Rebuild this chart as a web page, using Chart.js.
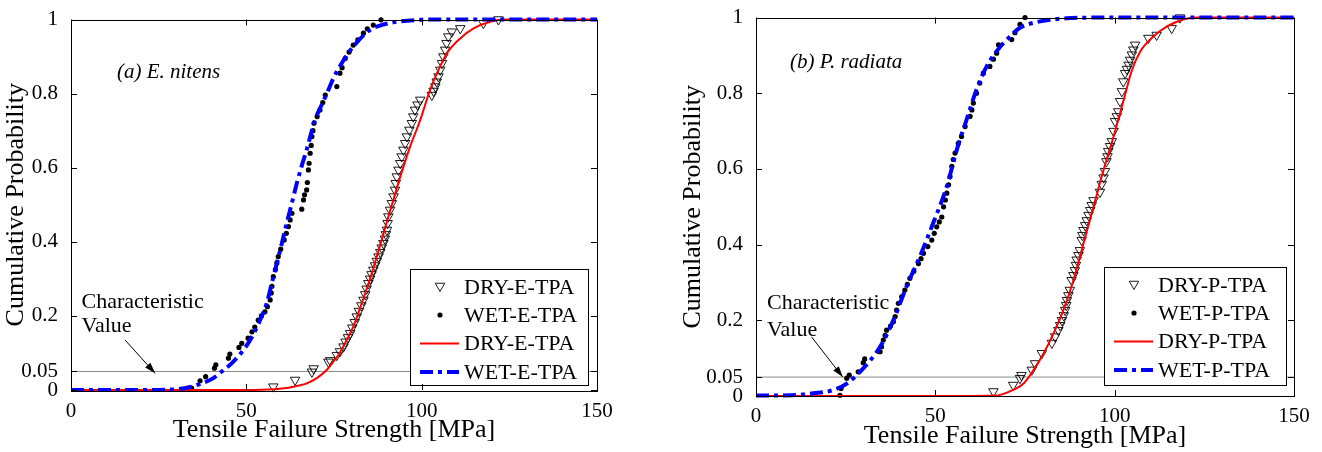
<!DOCTYPE html>
<html>
<head>
<meta charset="utf-8">
<script src="https://cdn.jsdelivr.net/npm/chart.js@4.4.1/dist/chart.umd.min.js"></script>
<style>
  body { margin: 0; background: #fff; width: 1322px; height: 452px; overflow: hidden; position: relative; }
  .panel { position: absolute; top: 0; }
  #panelA { left: 0; }
  #panelB { left: 660px; }
</style>
</head>
<body>
<div class="panel" id="panelA"><canvas id="chartA" width="650" height="452"></canvas></div>
<div class="panel" id="panelB"><canvas id="chartB" width="662" height="452"></canvas></div>
<script>
// axis ticks and the characteristic value line
const xTicks = [0, 50, 100, 150];
const yTicks = [0, 0.05, 0.2, 0.4, 0.6, 0.8, 1];
const charValue = 0.05;

// (a) E. nitens -- [tensile strength MPa, cumulative probability]
const dryE_test = [[57.7,0.009],[63.9,0.027],[68.7,0.049],[69.2,0.058],[73.4,0.076],[73.9,0.08],[75.8,0.094],[76.7,0.104],
  [77.7,0.117],[78.3,0.13],[79.0,0.142],[79.6,0.153],[80.2,0.168],[80.9,0.183],[81.5,0.198],[82.1,0.213],[82.8,0.228],
  [83.4,0.243],[83.9,0.258],[84.3,0.273],[84.8,0.288],[85.3,0.3],[85.7,0.312],[86.2,0.324],[86.7,0.336],[87.2,0.348],
  [87.7,0.36],[88.2,0.372],[88.6,0.384],[89.1,0.396],[89.5,0.408],[89.8,0.42],[90.1,0.432],[90.3,0.45],[90.5,0.468],
  [91.0,0.486],[91.5,0.504],[92.0,0.522],[92.4,0.54],[92.6,0.558],[92.9,0.576],[93.4,0.594],[93.9,0.612],[94.3,0.63],
  [94.8,0.648],[95.3,0.666],[95.8,0.684],[96.5,0.702],[97.2,0.72],[97.6,0.738],[98.1,0.756],[98.8,0.77],[99.6,0.783],
  [102.9,0.796],[103.4,0.807],[103.9,0.819],[104.3,0.832],[104.8,0.846],[105.3,0.864],[105.8,0.882],[106.2,0.9],
  [106.7,0.918],[107.1,0.936],[107.6,0.954],[108.6,0.967],[111.0,0.976],[117.6,0.99],[121.9,1.0]];
const wetE_test = [[34.4,0.005],[36.8,0.025],[38.4,0.036],[40.9,0.059],[41.3,0.068],[44.9,0.086],[45.3,0.097],[47.9,0.115],
  [48.7,0.126],[50.5,0.14],[51.6,0.157],[52.4,0.17],[53.4,0.189],[54.3,0.2],[55.3,0.211],[56.0,0.225],[56.8,0.243],
  [57.1,0.262],[57.3,0.28],[57.7,0.306],[58.3,0.325],[58.7,0.343],[59.1,0.36],[59.8,0.38],[60.8,0.405],[61.4,0.423],
  [62.0,0.441],[62.5,0.459],[63.0,0.477],[65.8,0.488],[66.3,0.513],[66.6,0.527],[67.2,0.54],[67.4,0.56],[67.7,0.594],
  [67.9,0.612],[68.2,0.639],[68.5,0.66],[68.7,0.684],[69.0,0.7],[69.3,0.72],[70.2,0.738],[71.0,0.756],[71.8,0.776],
  [72.5,0.796],[75.8,0.819],[76.7,0.855],[77.3,0.87],[78.2,0.895],[79.3,0.912],[80.5,0.931],[81.8,0.945],[83.4,0.963],
  [84.5,0.975],[86.2,0.985],[88.4,0.999]];
const dryE_fit = [[0,0],[50,0],[58,0.002],[62,0.006],[65,0.012],[67.2,0.018],[70.1,0.032],[72.9,0.054],[74.7,0.075],
  [76.5,0.098],[78.5,0.133],[80.5,0.171],[82.2,0.215],[83.9,0.261],[85.6,0.31],[87.2,0.36],[88.9,0.415],[90.5,0.468],
  [92.2,0.522],[93.9,0.576],[95.3,0.617],[96.7,0.657],[98.2,0.694],[99.6,0.729],[101.0,0.77],[102.4,0.81],[104.8,0.864],
  [107.2,0.909],[111.0,0.949],[114.8,0.976],[119.5,0.994],[123.8,1],[150,1]];
const wetE_fit = [[0,0],[20,0],[30,0.002],[34,0.008],[37,0.017],[40.6,0.032],[43,0.05],[45.8,0.072],[48.5,0.1],
  [51.1,0.135],[53.5,0.18],[55.8,0.234],[57.3,0.29],[58.7,0.342],[60.1,0.395],[61.5,0.45],[63.0,0.505],[64.4,0.558],
  [65.8,0.605],[67.2,0.648],[68.4,0.69],[69.6,0.729],[71.3,0.766],[73.0,0.801],[75.0,0.845],[77.2,0.882],[80.5,0.927],
  [85.3,0.972],[89.0,0.986],[92.9,0.994],[99.6,0.999],[105,1],[150,1]];

// (b) P. radiata
const dryP_test = [[66.2,0.012],[71.7,0.029],[73.6,0.047],[74.0,0.055],[76.9,0.069],[77.8,0.086],[79.7,0.113],[82.5,0.14],
  [83.4,0.157],[84.3,0.174],[84.8,0.187],[85.3,0.2],[85.8,0.213],[86.2,0.227],[86.5,0.24],[86.7,0.253],[87.1,0.266],
  [87.5,0.28],[88.0,0.306],[88.5,0.319],[88.9,0.332],[89.2,0.346],[89.4,0.36],[89.9,0.372],[90.3,0.385],[90.8,0.412],
  [91.0,0.425],[91.3,0.438],[91.8,0.451],[92.2,0.464],[92.7,0.478],[93.2,0.491],[93.6,0.504],[94.1,0.517],[95.9,0.539],
  [96.4,0.56],[96.9,0.577],[97.3,0.594],[97.7,0.62],[98.0,0.633],[98.2,0.647],[98.7,0.66],[99.2,0.673],[99.7,0.7],
  [100.1,0.726],[100.6,0.739],[101.0,0.752],[101.5,0.779],[102.0,0.805],[102.4,0.831],[102.9,0.853],[103.4,0.864],
  [103.9,0.875],[104.3,0.888],[104.8,0.902],[105.2,0.915],[105.7,0.928],[109.4,0.946],[111.7,0.954],[115.9,0.972],[118.2,1.0]];
const wetP_test = [[23.4,0.002],[23.7,0.02],[25.3,0.047],[26.0,0.055],[28.5,0.064],[29.9,0.088],[30.3,0.098],[34.6,0.117],
  [35.0,0.13],[35.5,0.148],[36.0,0.16],[36.4,0.174],[37.5,0.185],[38.3,0.196],[38.8,0.21],[39.2,0.227],[39.7,0.245],
  [40.6,0.262],[41.5,0.28],[42.2,0.295],[42.9,0.311],[44.0,0.33],[45.3,0.35],[46.0,0.363],[46.7,0.377],[47.9,0.395],
  [49.0,0.412],[49.7,0.43],[50.4,0.447],[51.1,0.46],[51.8,0.473],[52.3,0.5],[52.8,0.518],[53.2,0.536],[53.7,0.558],
  [54.1,0.58],[54.6,0.607],[55.0,0.625],[55.5,0.642],[56.4,0.668],[57.3,0.686],[58.3,0.712],[59.7,0.739],[60.2,0.756],
  [60.6,0.774],[61.5,0.8],[62.4,0.827],[63.4,0.853],[65.2,0.871],[66.2,0.89],[67.1,0.906],[67.6,0.928],[71.3,0.942],
  [72.2,0.96],[73.6,0.982],[75.0,1.0]];
const dryP_fit = [[0,0],[60,0],[66,0.001],[68.1,0.003],[71.7,0.016],[74.6,0.033],[77.4,0.069],[80.2,0.113],[83.0,0.166],
  [85.7,0.227],[88.5,0.306],[91.3,0.403],[94.1,0.5],[96.9,0.597],[99.7,0.686],[102.5,0.782],[104.8,0.861],[107.1,0.91],
  [110.8,0.95],[114.5,0.976],[119.1,0.995],[123,1],[150,1]];
const wetP_fit = [[0,0.001],[10,0.002],[16,0.007],[21.6,0.016],[25.3,0.033],[29.9,0.073],[34.6,0.13],[38.3,0.2],[42.0,0.29],
  [45.7,0.369],[49.4,0.457],[53.2,0.554],[56.0,0.651],[58.7,0.73],[61.5,0.81],[64.3,0.871],[68.0,0.922],[70.8,0.95],
  [73.6,0.973],[79.2,0.99],[86.6,0.998],[95,1],[150,1]];

const labelsE = ['DRY-E-TPA', 'WET-E-TPA', 'DRY-E-TPA', 'WET-E-TPA'];
const labelsP = ['DRY-P-TPA', 'WET-P-TPA', 'DRY-P-TPA', 'WET-P-TPA'];

const serif = '"Liberation Serif", "Times New Roman", serif';
const blueDash = [13, 5, 4, 5];

function toXY(arr) {
  return arr.map(function (p) { return { x: p[0], y: p[1] }; });
}

function drawTriangle(ctx, cx, cy, r) {
  // downward pointing open triangle
  ctx.beginPath();
  ctx.moveTo(cx - r * 0.866, cy - r * 0.5);
  ctx.lineTo(cx + r * 0.866, cy - r * 0.5);
  ctx.lineTo(cx, cy + r);
  ctx.closePath();
  ctx.stroke();
}

// frame, inward ticks, boxed legend and the text notes
const decorPlugin = {
  id: 'decor',
  afterDatasetsDraw(chart, args, o) {
    const ctx = chart.ctx;
    const a = chart.chartArea;
    const sx = chart.scales.x, sy = chart.scales.y;
    ctx.save();

    // legend box
    const bx = a.right - o.legend.right - o.legend.w;
    const by = a.bottom - o.legend.bottom - o.legend.h;
    ctx.fillStyle = '#fff';
    ctx.fillRect(bx, by, o.legend.w, o.legend.h);
    ctx.strokeStyle = '#000';
    ctx.lineWidth = 1;
    ctx.strokeRect(bx + 0.5, by + 0.5, o.legend.w, o.legend.h);
    const rows = [18, 46, 74.5, 103];
    ctx.font = '22px ' + serif;
    ctx.textBaseline = 'middle';
    ctx.textAlign = 'left';
    o.labels.forEach(function (txt, i) {
      const ry = by + rows[i];
      ctx.save();
      if (i === 0) {
        ctx.lineWidth = 0.9;
        drawTriangle(ctx, bx + 30, ry - 1, 5.5);
      } else if (i === 1) {
        ctx.fillStyle = '#000';
        ctx.beginPath();
        ctx.arc(bx + 30, ry, 2.6, 0, Math.PI * 2);
        ctx.fill();
      } else if (i === 2) {
        ctx.strokeStyle = '#ff0000';
        ctx.lineWidth = 2;
        ctx.beginPath(); ctx.moveTo(bx + 10, ry); ctx.lineTo(bx + 49, ry); ctx.stroke();
      } else {
        ctx.strokeStyle = '#0000ff';
        ctx.lineWidth = 4;
        ctx.setLineDash(blueDash);
        ctx.beginPath(); ctx.moveTo(bx + 10, ry); ctx.lineTo(bx + 49, ry); ctx.stroke();
      }
      ctx.restore();
      ctx.fillStyle = '#000';
      ctx.fillText(txt, bx + 54, ry + 1);
    });

    // axes box
    ctx.strokeStyle = '#000';
    ctx.lineWidth = 1;
    ctx.strokeRect(Math.round(a.left) + 0.5, Math.round(a.top) + 0.5, Math.round(a.width), Math.round(a.height));

    // inward tick marks on all four sides
    const tl = 6;
    ctx.beginPath();
    sx.ticks.forEach(function (t) {
      const px = Math.round(sx.getPixelForValue(t.value)) + 0.5;
      ctx.moveTo(px, a.bottom); ctx.lineTo(px, a.bottom - tl);
      ctx.moveTo(px, a.top); ctx.lineTo(px, a.top + tl);
    });
    sy.ticks.forEach(function (t) {
      const py = Math.round(sy.getPixelForValue(t.value)) + 0.5;
      ctx.moveTo(a.left, py); ctx.lineTo(a.left + tl, py);
      ctx.moveTo(a.right, py); ctx.lineTo(a.right - tl, py);
    });
    ctx.stroke();

    // characteristic value note with arrow
    const n = o.note;
    ctx.fillStyle = '#000';
    ctx.font = '22px ' + serif;
    ctx.textAlign = 'left';
    ctx.textBaseline = 'middle';
    ctx.fillText('Characteristic', sx.getPixelForValue(n.x), sy.getPixelForValue(n.y1));
    ctx.fillText('Value', sx.getPixelForValue(n.x), sy.getPixelForValue(n.y2));
    const x1 = sx.getPixelForValue(n.from[0]), y1 = sy.getPixelForValue(n.from[1]);
    const x2 = sx.getPixelForValue(n.to[0]), y2 = sy.getPixelForValue(n.to[1]);
    ctx.lineWidth = 1;
    ctx.beginPath(); ctx.moveTo(x1, y1); ctx.lineTo(x2, y2); ctx.stroke();
    const ang = Math.atan2(y2 - y1, x2 - x1);
    const hl = 11, hw = 3.5;
    ctx.beginPath();
    ctx.moveTo(x2, y2);
    ctx.lineTo(x2 - hl * Math.cos(ang) + hw * Math.sin(ang), y2 - hl * Math.sin(ang) - hw * Math.cos(ang));
    ctx.lineTo(x2 - hl * Math.cos(ang) - hw * Math.sin(ang), y2 - hl * Math.sin(ang) + hw * Math.cos(ang));
    ctx.closePath();
    ctx.fill();

    // panel label
    ctx.font = 'italic 21px ' + serif;
    ctx.fillText(o.panel.text, sx.getPixelForValue(o.panel.x), sy.getPixelForValue(o.panel.y));

    ctx.restore();
  }
};

function makePanel(canvasId, geo, labels, dryTest, wetTest, dryFit, wetFit, panel, note) {
  const datasets = [
    { label: labels[3], data: toXY(wetFit), showLine: true, borderColor: '#0000ff', borderWidth: 4,
      borderDash: blueDash, borderCapStyle: 'butt', pointRadius: 0, cubicInterpolationMode: 'monotone',
      fill: false, clip: false, order: 1 },
    { label: labels[2], data: toXY(dryFit), showLine: true, borderColor: '#ff0000', borderWidth: 2,
      pointRadius: 0, cubicInterpolationMode: 'monotone', fill: false, clip: false, order: 2 },
    { label: labels[1], data: toXY(wetTest), showLine: false, pointStyle: 'circle', pointRadius: 2.6,
      pointBackgroundColor: '#000', pointBorderColor: '#000', pointBorderWidth: 0, clip: false, order: 3 },
    { label: labels[0], data: toXY(dryTest), showLine: false, pointStyle: 'triangle', pointRotation: 180,
      pointRadius: 5.5, pointBackgroundColor: 'rgba(0,0,0,0)', pointBorderColor: '#000', pointBorderWidth: 0.9,
      clip: false, order: 4 },
    { label: 'char', data: toXY([[xTicks[0], charValue], [xTicks[xTicks.length - 1], charValue]]), showLine: true,
      borderColor: '#8a8a8a', borderWidth: 1, pointRadius: 0, fill: false, order: 5 }
  ];

  new Chart(document.getElementById(canvasId), {
    type: 'scatter',
    data: { datasets: datasets },
    options: {
      responsive: false,
      animation: false,
      devicePixelRatio: 1,
      events: [],
      layout: { padding: { left: 0, top: geo.top, right: geo.right, bottom: 0 } },
      plugins: {
        legend: { display: false },
        tooltip: { enabled: false },
        decor: { labels: labels, legend: geo.legend, panel: panel, note: note }
      },
      scales: {
        x: {
          type: 'linear', min: xTicks[0], max: xTicks[xTicks.length - 1],
          afterBuildTicks: function (s) { s.ticks = xTicks.map(function (v) { return { value: v }; }); },
          afterFit: function (s) { s.height = geo.xAxisH; },
          grid: { display: false }, border: { display: false },
          ticks: { font: { family: serif, size: 21 }, color: '#000', padding: geo.xTickPad, maxRotation: 0, autoSkip: false },
          title: { display: true, text: 'Tensile Failure Strength [MPa]', color: '#000',
            font: { family: serif, size: 26 }, padding: { top: 0, bottom: geo.xTitlePad } }
        },
        y: {
          type: 'linear', min: yTicks[0], max: yTicks[yTicks.length - 1],
          afterBuildTicks: function (s) { s.ticks = yTicks.map(function (v) { return { value: v }; }); },
          afterFit: function (s) { s.width = geo.yAxisW; },
          grid: { display: false }, border: { display: false },
          ticks: { font: { family: serif, size: 21 }, color: '#000', padding: 5, autoSkip: false,
            callback: function (v) { return String(v); } },
          title: { display: true, text: 'Cumulative Probability', color: '#000',
            font: { family: serif, size: 26 }, padding: { top: geo.yTitlePad, bottom: 0 } }
        }
      }
    },
    plugins: [decorPlugin]
  });
}

makePanel('chartA',
  { top: 19.5, right: 53, yAxisW: 71, xAxisH: 62, xTickPad: 1, xTitlePad: 6, yTitlePad: 1,
    legend: { right: 9, bottom: 5, w: 178, h: 116 } },
  labelsE, dryE_test, wetE_test, dryE_fit, wetE_fit,
  { text: '(a) E. nitens', x: 13.1, y: 0.856 },
  { x: 3.0, y1: 0.238, y2: 0.171, from: [15.4, 0.135], to: [24, 0.045] });

makePanel('chartB',
  { top: 16.7, right: 28, yAxisW: 96, xAxisH: 56, xTickPad: 0, xTitlePad: 0, yTitlePad: 18,
    legend: { right: 8, bottom: 11, w: 182, h: 118 } },
  labelsP, dryP_test, wetP_test, dryP_fit, wetP_fit,
  { text: '(b) P. radiata', x: 9.5, y: 0.881 },
  { x: 3.1, y1: 0.245, y2: 0.174, from: [15.5, 0.156], to: [24.2, 0.05] });
</script>
</body>
</html>
